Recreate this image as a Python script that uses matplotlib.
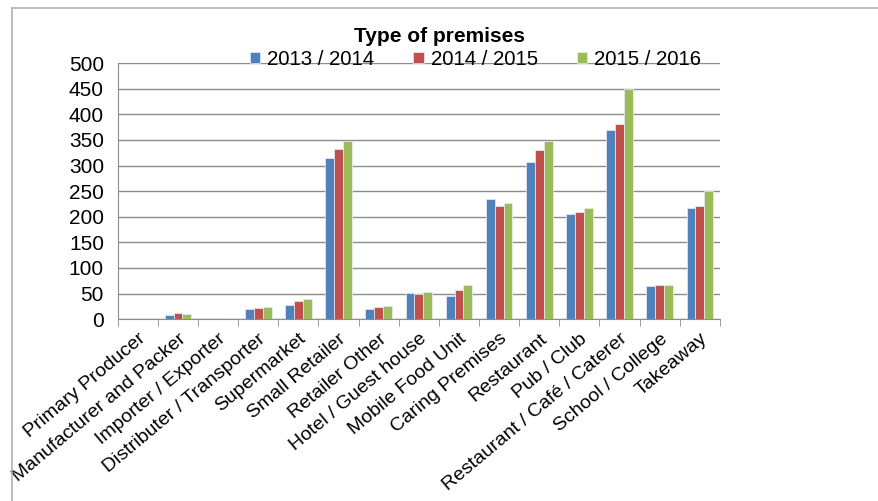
import matplotlib
matplotlib.use("Agg")
import matplotlib.pyplot as plt
from matplotlib.lines import Line2D
import numpy as np

# Data
categories = [
    "Primary Producer", "Manufacturer and Packer", "Importer / Exporter",
    "Distributer / Transporter", "Supermarket", "Small Retailer",
    "Retailer Other", "Hotel / Guest house", "Mobile Food Unit",
    "Caring Premises", "Restaurant", "Pub / Club",
    "Restaurant / Café / Caterer", "School / College", "Takeaway",
]
series_names = ["2013 / 2014", "2014 / 2015", "2015 / 2016"]
vals_2013 = [0, 9, 2, 20, 28, 315, 20, 52, 45, 235, 306, 206, 370, 64, 217]
vals_2014 = [0, 12, 2, 22, 36, 332, 23, 50, 57, 221, 331, 210, 381, 66, 220]
vals_2015 = [0, 10, 2, 23, 40, 347, 26, 53, 67, 226, 347, 218, 450, 66, 251]
yticks = [0, 50, 100, 150, 200, 250, 300, 350, 400, 450, 500]

COLORS = ["#4F81BD", "#C0504D", "#9BBB59"]

plt.rcParams["font.family"] = ["Liberation Sans", "DejaVu Sans"]

fig = plt.figure(figsize=(8.79, 5.01), dpi=100)
ax = fig.add_axes([0.134, 0.363, 0.685, 0.511])

x = np.arange(len(categories))
width = 0.22
for i, (vals, name) in enumerate(zip([vals_2013, vals_2014, vals_2015], series_names)):
    ax.bar(x + (i - 1) * width, vals, width=width, color=COLORS[i],
           edgecolor="#e8eef6", linewidth=0.5, label=name, zorder=3)

ax.set_xlim(-0.5, len(categories) - 0.5)
ax.set_ylim(0, 500)
ax.set_yticks(yticks)
ax.tick_params(axis="y", labelsize=15, length=0, pad=10)
ax.yaxis.grid(True, color="#8c8c8c", linewidth=1.0)
ax.set_axisbelow(True)

ax.set_xticks(x)
ax.set_xticklabels(categories, rotation=40, ha="right", rotation_mode="anchor", fontsize=14)
ax.tick_params(axis="x", length=0, pad=8)
ax.set_xticks(np.arange(-0.5, len(categories)), minor=True)
ax.tick_params(axis="x", which="minor", length=5, color="#8c8c8c")

for s in ["top", "right"]:
    ax.spines[s].set_visible(False)
for s in ["left", "bottom"]:
    ax.spines[s].set_color("#8c8c8c")

fig.text(0.5, 0.928, "Type of premises", ha="center", va="center",
         fontsize=15, fontweight="bold")
fig.legend(loc="center", bbox_to_anchor=(0.541, 0.882), ncol=3, frameon=False,
           fontsize=14.7, handlelength=0.5, handleheight=0.5, handletextpad=0.35,
           columnspacing=1.9, borderpad=0.1)

# light frame around the chart (top and left edges visible)
fig.add_artist(Line2D([0.0137, 1.0], [0.984, 0.984], transform=fig.transFigure,
                      color="#b0b0b0", linewidth=1.2))
fig.add_artist(Line2D([0.0137, 0.0137], [0.0, 0.984], transform=fig.transFigure,
                      color="#b0b0b0", linewidth=1.2))

fig.savefig("out.png", dpi=100)
